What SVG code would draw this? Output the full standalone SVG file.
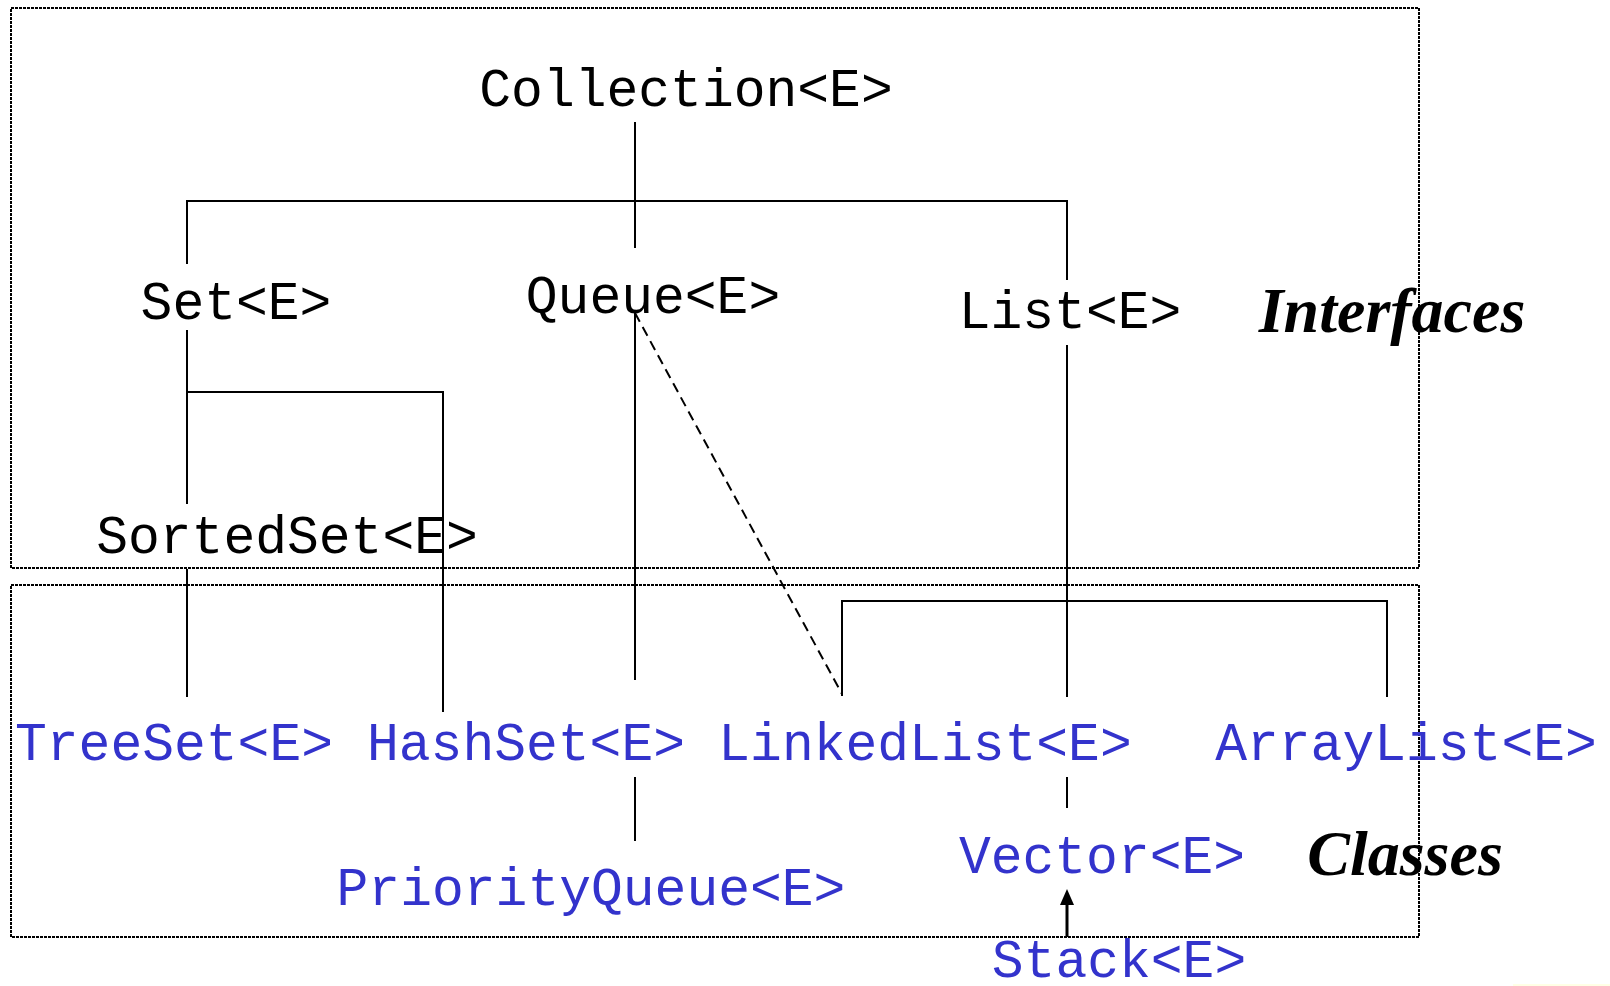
<svg xmlns="http://www.w3.org/2000/svg" width="1610" height="986" viewBox="0 0 1610 986">
<style>
.box{fill:none;stroke:#000;stroke-width:2;stroke-dasharray:3 1}
.ln{fill:none;stroke:#000;stroke-width:2}
.dash{fill:none;stroke:#000;stroke-width:2;stroke-dasharray:10 6}
.iface{font-family:"Liberation Mono","Courier New",monospace;font-size:53px;fill:#000;text-anchor:middle}
.cls{font-family:"Liberation Mono","Courier New",monospace;font-size:53px;fill:#3333cc;text-anchor:middle}
.lbl{font-family:"Liberation Serif","Times New Roman",serif;font-size:64px;font-weight:bold;font-style:italic;fill:#000;text-anchor:middle}
</style>
<rect width="1610" height="986" fill="#fff"/>
<g id="regions">
<rect class="box" x="11" y="8" width="1408" height="560"/>
<rect class="box" x="11" y="585" width="1408" height="352"/>
</g>
<g id="connectors">
<line class="ln" x1="635" y1="122" x2="635" y2="248"/>
<polyline class="ln" points="187,264 187,201 1067,201 1067,280"/>
<line class="ln" x1="187" y1="330" x2="187" y2="504"/>
<polyline class="ln" points="187,392 443,392 443,712"/>
<line class="ln" x1="187" y1="569" x2="187" y2="697"/>
<line class="ln" x1="635" y1="313" x2="635" y2="680"/>
<line class="dash" x1="635" y1="313" x2="842" y2="694"/>
<line class="ln" x1="1067" y1="345" x2="1067" y2="697"/>
<polyline class="ln" points="842,696 842,601 1387,601 1387,697"/>
<line class="ln" x1="1067" y1="777" x2="1067" y2="808"/>
<line class="ln" x1="635" y1="777" x2="635" y2="841"/>
<line x1="1067" y1="937" x2="1067" y2="900" stroke="#000" stroke-width="3"/>
<polygon points="1067,889 1060,905 1074,905" fill="#000"/>
</g>
<g id="collection"><text class="iface" x="686" y="106">Collection&lt;E&gt;</text></g>
<g id="set"><text class="iface" x="236" y="319">Set&lt;E&gt;</text></g>
<g id="queue"><text class="iface" x="653" y="313">Queue&lt;E&gt;</text></g>
<g id="list"><text class="iface" x="1070" y="328">List&lt;E&gt;</text></g>
<g id="sortedset"><text class="iface" x="287" y="553">SortedSet&lt;E&gt;</text></g>
<g id="treeset"><text class="cls" x="174" y="760">TreeSet&lt;E&gt;</text></g>
<g id="hashset"><text class="cls" x="526" y="760">HashSet&lt;E&gt;</text></g>
<g id="linkedlist"><text class="cls" x="925" y="760">LinkedList&lt;E&gt;</text></g>
<g id="arraylist"><text class="cls" x="1406" y="760">ArrayList&lt;E&gt;</text></g>
<g id="vector"><text class="cls" x="1102" y="873">Vector&lt;E&gt;</text></g>
<g id="priorityqueue"><text class="cls" x="591" y="905">PriorityQueue&lt;E&gt;</text></g>
<g id="stack"><text class="cls" x="1119" y="977">Stack&lt;E&gt;</text></g>
<g id="labels">
<text class="lbl" x="1392" y="332">Interfaces</text>
<text class="lbl" x="1405" y="875">Classes</text>
</g>
<line x1="1513" y1="985" x2="1610" y2="985" stroke="#ffffcc" stroke-width="1"/>
</svg>
